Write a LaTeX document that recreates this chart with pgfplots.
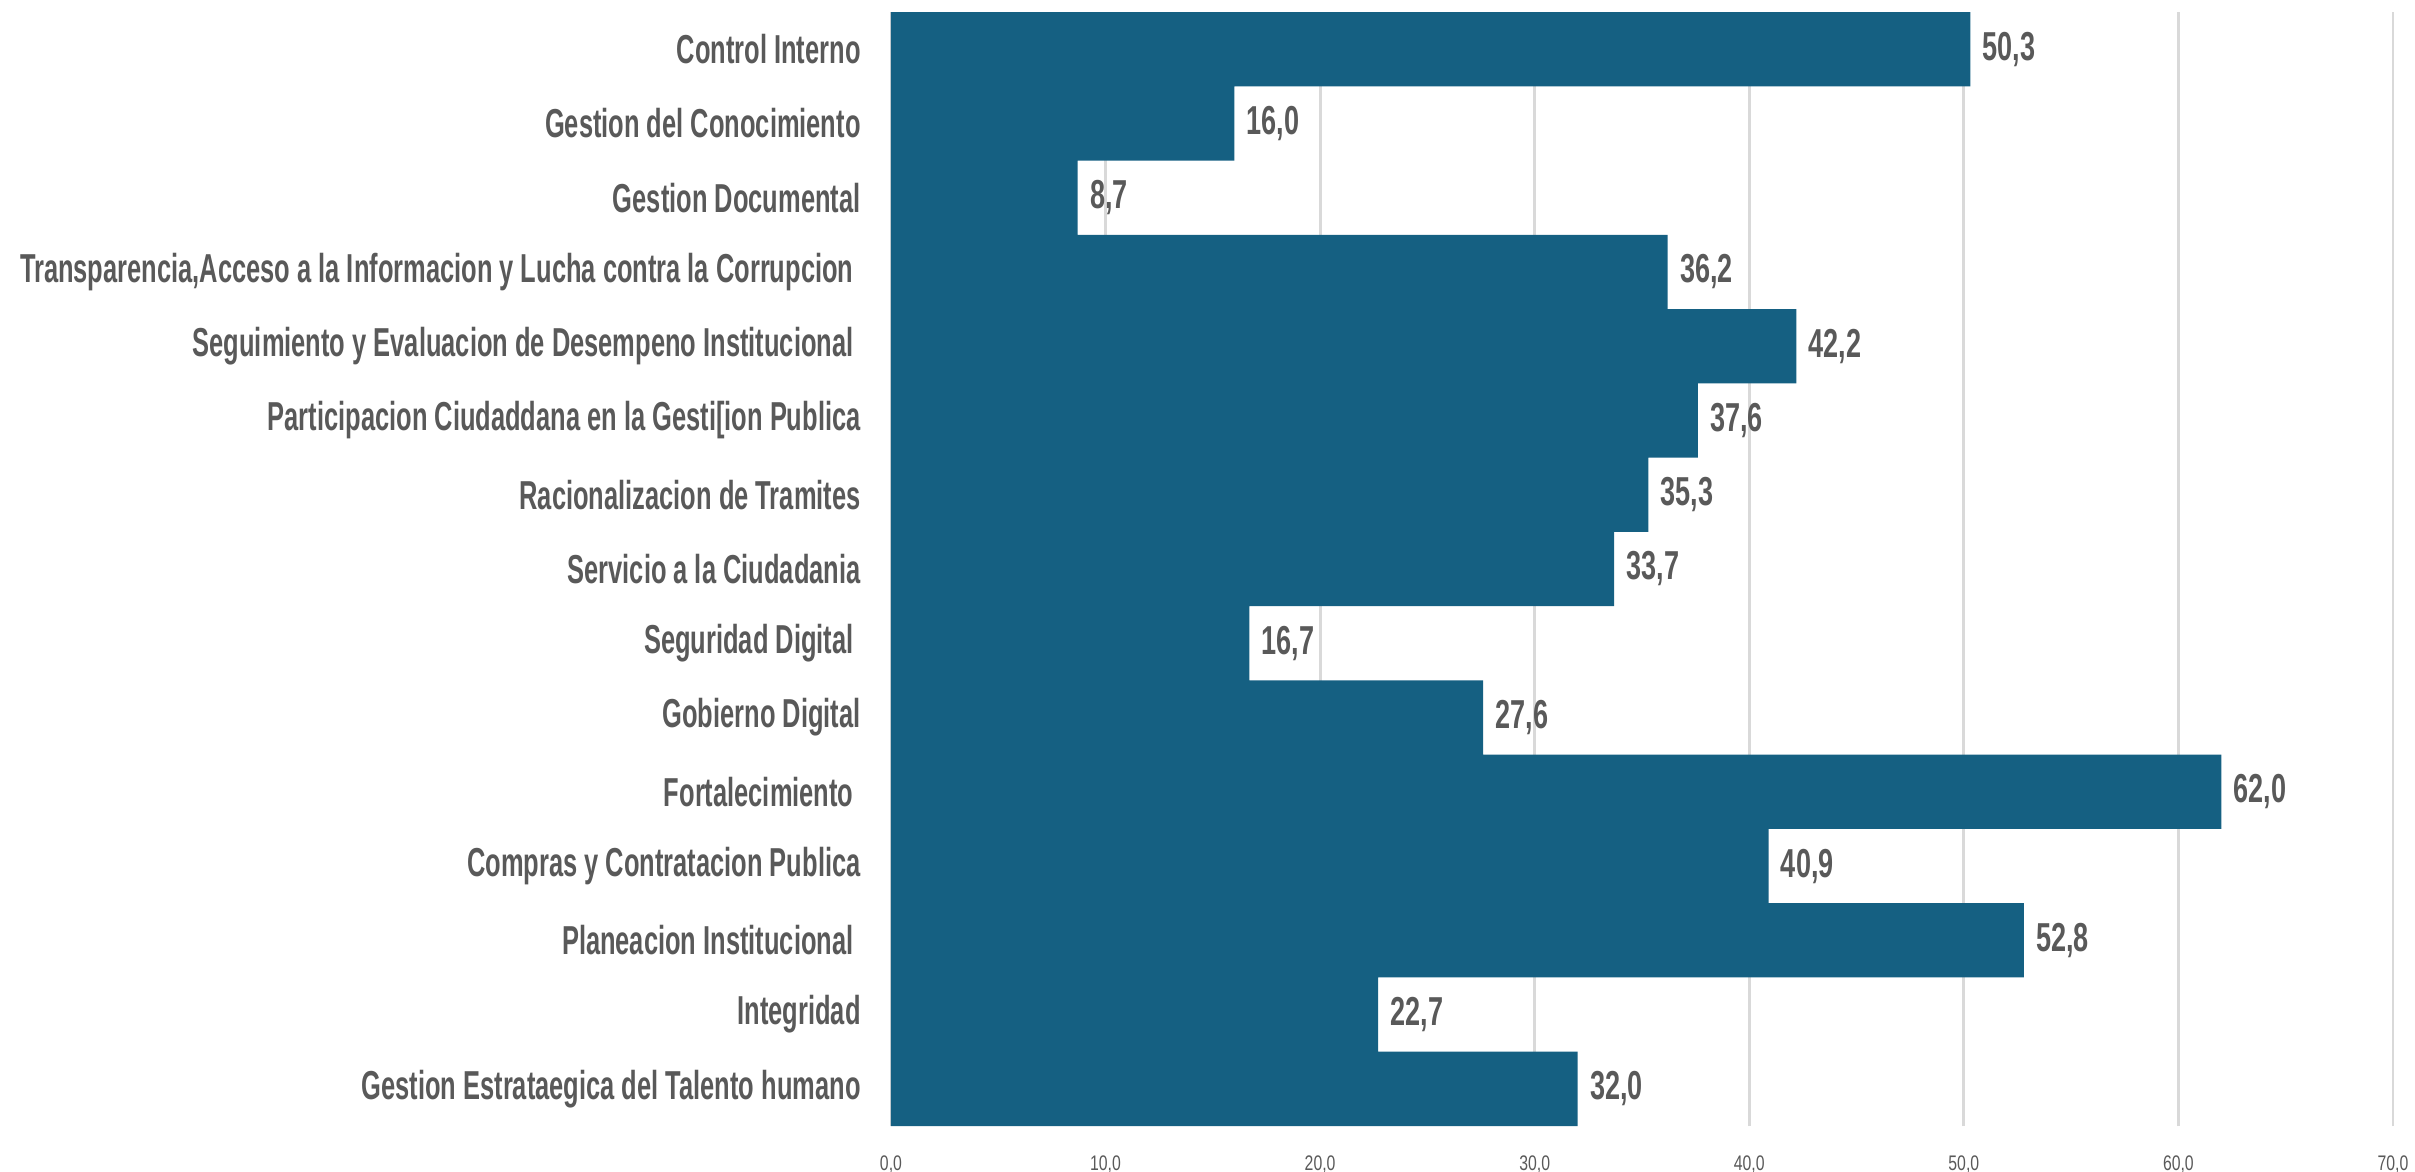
\documentclass[border=0pt]{standalone}
\usepackage{pgfplots}
\pgfplotsset{compat=1.18}
\usepackage{fontspec}
\setmainfont{Liberation Sans}
\definecolor{barblue}{HTML}{156082}
\definecolor{txtgray}{HTML}{595959}
\definecolor{gridgray}{HTML}{D9D9D9}
\newcommand{\lbl}[1]{\scalebox{0.63}[1]{#1}}
\newcommand{\vlb}[1]{\scalebox{0.67}[1]{#1}}
\newcommand{\tlb}[1]{\scalebox{0.75}[1]{#1}}
\begin{document}
\begin{tikzpicture}
\begin{axis}[
  scale only axis,
  width=15.02cm, height=11.14cm,
  xbar, bar width=1,
  xmin=0, xmax=70,
  ymin=-0.5, ymax=14.5,
  axis line style={draw=none},
  major tick length=0pt,
  xmajorgrids, grid style={gridgray, line width=0.8pt},
  xtick={0,10,20,30,40,50,60,70},
  xticklabels={\tlb{0,0},\tlb{10,0},\tlb{20,0},\tlb{30,0},\tlb{40,0},\tlb{50,0},\tlb{60,0},\tlb{70,0}},
  xticklabel style={font=\fontsize{6}{7}\selectfont, text=txtgray, yshift=-0.17cm},
  ytick={0,...,14},
  yticklabels={
    \lbl{Gestion Estrataegica del Talento humano},
    \lbl{Integridad},
    \lbl{Planeacion Institucional\ },
    \lbl{Compras y Contratacion Publica},
    \lbl{Fortalecimiento\ },
    \lbl{Gobierno Digital},
    \lbl{Seguridad Digital\ },
    \lbl{Servicio a la Ciudadania},
    \lbl{Racionalizacion de Tramites},
    \lbl{Participacion Ciudaddana en la Gesti[ion Publica},
    \lbl{Seguimiento y Evaluacion de Desempeno Institucional\ },
    \lbl{Transparencia,Acceso a la Informacion y Lucha contra la Corrupcion\ },
    \lbl{Gestion Documental},
    \lbl{Gestion del Conocimiento},
    \lbl{Control Interno}},
  yticklabel style={font=\fontsize{11.5}{13}\selectfont\bfseries, text=txtgray, xshift=-0.18cm},
  point meta=x,
  nodes near coords={\vlb{\pgfmathprintnumber{\pgfplotspointmeta}}},
  nodes near coords style={font=\fontsize{11.5}{13}\selectfont\bfseries, text=txtgray,
    /pgf/number format/.cd, fixed, fixed zerofill, precision=1, use comma, assume math mode=true},
]
\addplot[fill=barblue, draw=none] coordinates {
  (32.0,0) (22.7,1) (52.8,2) (40.9,3) (62.0,4) (27.6,5) (16.7,6) (33.7,7)
  (35.3,8) (37.6,9) (42.2,10) (36.2,11) (8.7,12) (16.0,13) (50.3,14)};
\end{axis}
\pgfresetboundingbox
\path[use as bounding box] (current axis.south west) ++(-8.91cm,-0.45cm) rectangle ++(24.15cm,11.71cm);
\end{tikzpicture}
\end{document}
